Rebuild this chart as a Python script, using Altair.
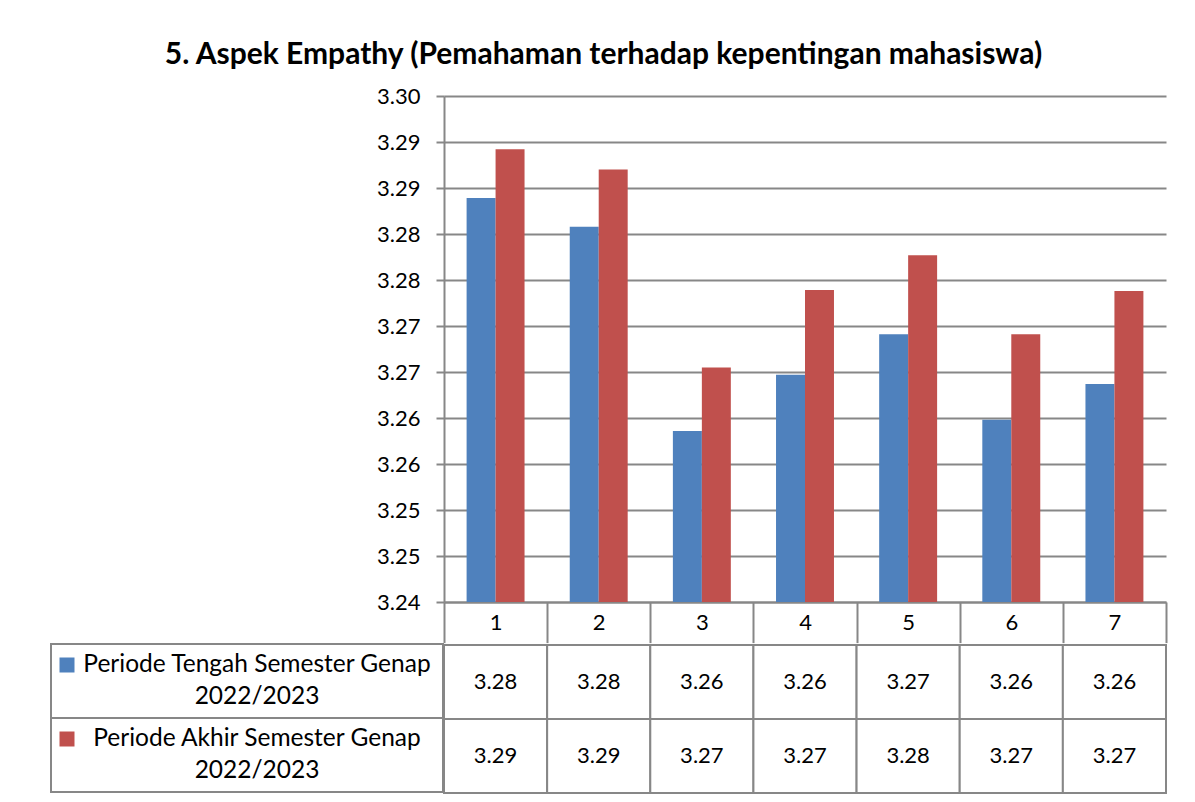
import altair as alt
import pandas as pd

# ---- data ----
categories = ["1", "2", "3", "4", "5", "6", "7"]
series_names = [
    "Periode Tengah Semester Genap 2022/2023",
    "Periode Akhir Semester Genap 2022/2023",
]
series_labels = [
    "Periode Tengah Semester Genap\n2022/2023",
    "Periode Akhir Semester Genap\n2022/2023",
]
tengah = [3.2839, 3.2808, 3.2586, 3.2647, 3.2691, 3.2598, 3.2637]
akhir = [3.2892, 3.2870, 3.2655, 3.2739, 3.2777, 3.2691, 3.2738]
y_min, y_max = 3.24, 3.295
y_ticks = [3.24, 3.245, 3.25, 3.255, 3.26, 3.265, 3.27, 3.275, 3.28, 3.285, 3.29, 3.295]
colors = ["#4F81BD", "#C0504D"]
title_text = "5. Aspek Empathy (Pemahaman terhadap kepentingan mahasiswa)"

rows = []
for s, lab, vals in zip(series_names, series_labels, [tengah, akhir]):
    for c, v in zip(categories, vals):
        rows.append({"cat": c, "series": s, "label": lab, "value": v})
df = pd.DataFrame(rows)
legend_df = pd.DataFrame({"series": series_names, "label": series_labels,
                          "col": ["legend"] * len(series_names)})

GRID = "#878787"
FONT = "Lato"
FS = 22
AXIS_EXT = 80
LEFT_W = 392

color_scale = alt.Scale(domain=series_names, range=colors)
band0 = alt.Scale(paddingInner=0, paddingOuter=0)

bars = alt.Chart(df).mark_bar().encode(
    x=alt.X("cat:N", sort=categories, scale=alt.Scale(domain=categories, paddingInner=0, paddingOuter=0),
            axis=alt.Axis(title=None, labelAngle=0, tickBand="extent", tickSize=40.6, tickWidth=2,
                          tickColor=GRID, domainColor=GRID, domainWidth=2, labelPadding=-20.3,
                          labelBaseline="middle", labelFontSize=FS, labelFont=FONT,
                          labelColor="black", grid=False)),
    xOffset=alt.XOffset("series:N", sort=series_names,
                        scale=alt.Scale(domain=series_names, paddingInner=0, paddingOuter=0.78)),
    y=alt.Y("value:Q", scale=alt.Scale(domain=[y_min, y_max], nice=False, zero=False),
            axis=alt.Axis(title=None, values=y_ticks,
                          labelExpr="format(datum.value + 0.0001, '.2f')",
                          grid=True, gridColor=GRID, gridWidth=2, tickSize=8, tickWidth=2,
                          tickColor=GRID, domainColor=GRID, domainWidth=2, labelPadding=16,
                          labelFontSize=FS, labelFont=FONT, labelColor="black",
                          minExtent=AXIS_EXT, maxExtent=AXIS_EXT)),
    y2=alt.datum(y_min),
    color=alt.Color("series:N", scale=color_scale, legend=None),
).properties(width=722, height=506)

ly = alt.Y("series:N", sort=series_names, axis=None, scale=band0)
lx = alt.X("col:N", axis=None, scale=band0)

# empty block beside the bar chart, so that the legend column sits under it
spacer = alt.Chart(legend_df).mark_text(text="", opacity=0).encode(x=lx, y=ly).properties(
    width=LEFT_W, height=547)

left_rect = alt.Chart(legend_df).mark_rect(fill="white", stroke=GRID, strokeWidth=2).encode(x=lx, y=ly)
left_text = alt.Chart(legend_df).mark_text(lineBreak="\n", font=FONT, fontSize=24.5, lineHeight=32,
                                           dx=10, dy=-16, color="black").encode(
    x=lx, y=ly, text="label:N")
left_sq = alt.Chart(legend_df).mark_square(size=225, opacity=1, xOffset=-180, yOffset=-16).encode(
    x=lx, y=ly, color=alt.Color("series:N", scale=color_scale, legend=None))
leftcol = alt.layer(left_rect, left_text, left_sq).properties(width=LEFT_W, height=148)

tx = alt.X("cat:N", sort=categories, axis=None, scale=band0)
cells = alt.Chart(df).mark_rect(fill="white", stroke=GRID, strokeWidth=2).encode(x=tx, y=ly)
vals_text = alt.Chart(df).mark_text(font=FONT, fontSize=FS, color="black").encode(
    x=tx, y=ly, text=alt.Text("value:Q", format=".2f"))
table = alt.layer(cells, vals_text).properties(width=722, height=148)

left_stack = alt.vconcat(spacer, leftcol, spacing=0)
main_stack = alt.vconcat(bars, table, spacing=0)

chart = alt.hconcat(left_stack, main_stack, spacing=-(AXIS_EXT + 7)).properties(
    title=alt.Title(title_text, font=FONT, fontSize=30, fontWeight="bold", anchor="middle",
                    offset=15, dx=-5, color="black"),
    padding={"left": 42, "top": 32, "right": 20, "bottom": 5},
).configure_view(stroke=None).configure_concat(spacing=0)

chart.save("out.html", embed_options={"renderer": "svg", "actions": False})
